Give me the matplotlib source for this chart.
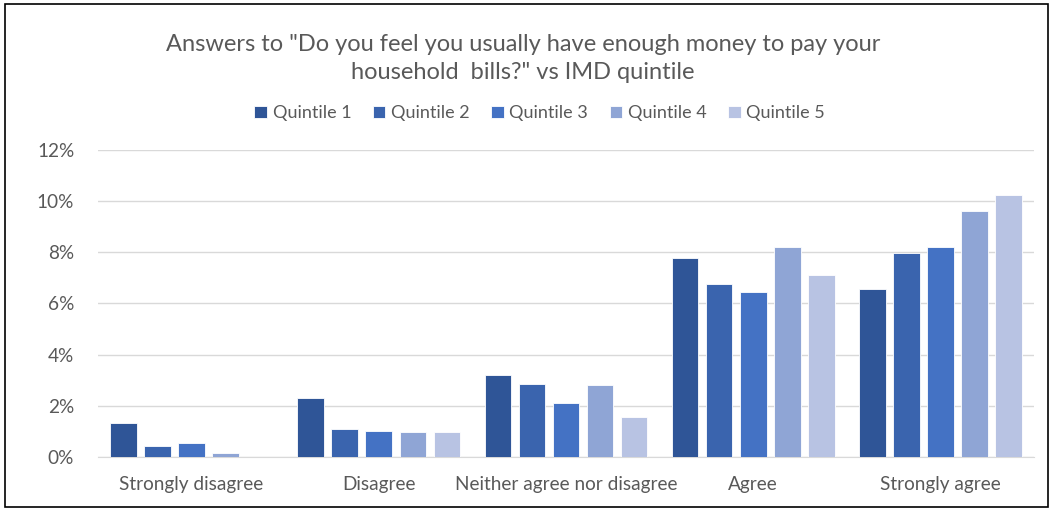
import matplotlib
matplotlib.use("Agg")
import matplotlib.pyplot as plt
import numpy as np
from matplotlib.patches import Rectangle
from matplotlib.ticker import FuncFormatter

plt.rcParams['font.family'] = ['Lato', 'DejaVu Sans']

categories = ["Strongly disagree", "Disagree", "Neither agree nor disagree", "Agree", "Strongly agree"]
series_names = ["Quintile 1", "Quintile 2", "Quintile 3", "Quintile 4", "Quintile 5"]
q1 = [1.31, 2.32, 3.20, 7.77, 6.56]
q2 = [0.43, 1.09, 2.86, 6.77, 7.98]
q3 = [0.56, 1.03, 2.12, 6.45, 8.20]
q4 = [0.16, 0.96, 2.80, 8.19, 9.62]
q5 = [0.00, 0.96, 1.56, 7.11, 10.23]
colors = ["#2F5597", "#3A64AE", "#4472C4", "#8FA5D5", "#B8C3E3"]

fig = plt.figure(figsize=(10.52, 5.11), dpi=100)
ax = fig.add_axes([0.093, 0.1057, 0.890, 0.601])

x = np.arange(len(categories))
step = 0.182
width = 0.142
for i, (vals, name, c) in enumerate(zip([q1, q2, q3, q4, q5], series_names, colors)):
    ax.bar(x + (i - 2) * step, vals, width, color=c, label=name,
           edgecolor="white", linewidth=0.6, zorder=3)

ax.set_xlim(-0.5, 4.5)
ax.set_ylim(0, 12)
ax.set_yticks(np.arange(0, 13, 2))
ax.yaxis.set_major_formatter(FuncFormatter(lambda v, p: f"{v:.0f}%"))
ax.set_xticks(x)
ax.set_xticklabels(categories)
ax.grid(axis="y", color="#D9D9D9", linewidth=1, zorder=0)
for s in ["top", "right", "left"]:
    ax.spines[s].set_visible(False)
ax.spines["bottom"].set_color("#D9D9D9")
ax.tick_params(axis="both", length=0, colors="#595959", labelsize=13.7)
ax.tick_params(axis="y", pad=17)
ax.tick_params(axis="x", pad=14)

fig.text(0.497, 0.913, 'Answers to "Do you feel you usually have enough money to pay your',
         ha="center", va="center", fontsize=17, color="#595959")
fig.text(0.497, 0.858, 'household  bills?" vs IMD quintile',
         ha="center", va="center", fontsize=17, color="#595959")

fig.legend(loc="center", bbox_to_anchor=(0.513, 0.778), ncol=5, frameon=False,
           fontsize=13, labelcolor="#595959", handlelength=0.7, handleheight=0.7,
           handletextpad=0.3, columnspacing=1.2)

fig.patches.append(Rectangle((0.005, 0.008), 0.991, 0.984, transform=fig.transFigure,
                             fill=False, edgecolor="black", linewidth=1.2))

fig.savefig("out.png", dpi=100)
